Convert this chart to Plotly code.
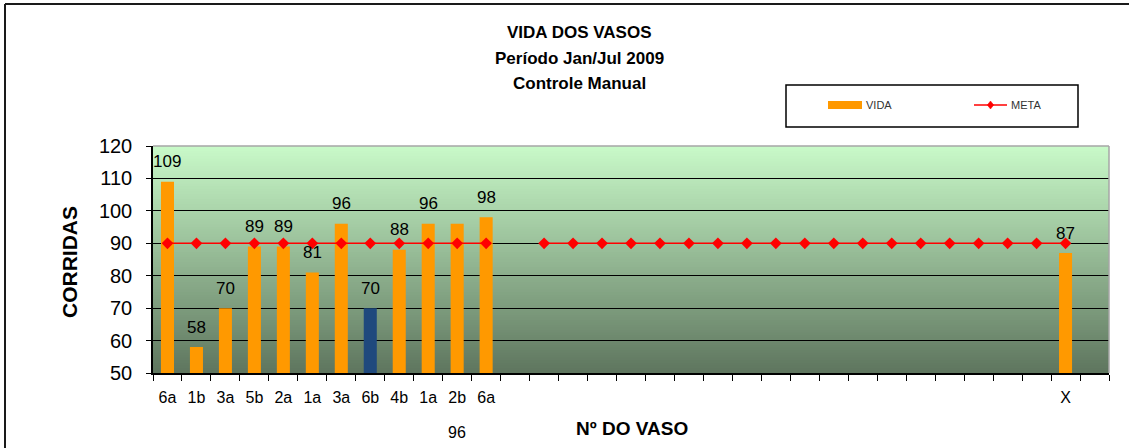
import plotly.graph_objects as go

# ---------------- data ----------------
categories = ["6a", "1b", "3a", "5b", "2a", "1a", "3a", "6b", "4b", "1a", "2b", "6a"] + [""] * 19 + ["X", ""]
vida = [109, 58, 70, 89, 89, 81, 96, 70, 88, 96, 96, 98] + [None] * 19 + [87, None]
meta = [90] * 12 + [None] + [90] * 19 + [None]
highlight_index = 7        # 6b bar drawn in dark blue
displaced_label_index = 10  # label of 2b shown below the axis

title_lines = ["VIDA DOS VASOS", "Período Jan/Jul 2009", "Controle Manual"]
y_ticks = [50, 60, 70, 80, 90, 100, 110, 120]

# ---------------- geometry helpers ----------------
W, H = 1129, 448
ML, MR, MT, MB = 153, 20, 146, 75
PW, PH = W - ML - MR, H - MT - MB


def px(x):
    return (x - ML) / PW


def py(y):
    return (H - MB - y) / PH


FONT = "Liberation Sans, Arial, sans-serif"
ORANGE = "#FF9900"
NAVY = "#1F497D"

xs = list(range(len(categories)))
bar_colors = [NAVY if i == highlight_index else ORANGE for i in xs]

fig = go.Figure()
fig.add_trace(go.Bar(
    x=xs, y=vida, width=0.45, marker=dict(color=bar_colors, line=dict(width=0)),
    name="VIDA", showlegend=False, hoverinfo="x+y",
))
fig.add_trace(go.Scatter(
    x=xs, y=meta, mode="lines+markers", name="META", showlegend=False,
    line=dict(color="#FF0000", width=1.6),
    marker=dict(symbol="diamond", size=9, color="#FF0000"),
    connectgaps=False,
))

shapes = []
# gradient background in plot area
top_c = (201, 250, 201)
bot_c = (94, 117, 94)
n = 90
for k in range(n):
    t0, t1 = k / n, (k + 1) / n
    tm = (t0 + t1) / 2
    c = tuple(round(bot_c[j] + (top_c[j] - bot_c[j]) * tm) for j in range(3))
    shapes.append(dict(type="rect", xref="paper", yref="paper", x0=0, x1=1,
                       y0=t0, y1=min(1, t1 + 0.004), layer="below",
                       line=dict(width=0), fillcolor="rgb(%d,%d,%d)" % c))
# plot area top / right border (gray)
shapes.append(dict(type="line", xref="paper", yref="paper", x0=0, x1=1, y0=1, y1=1,
                   line=dict(color="#A6A6A6", width=1.5), layer="above"))
shapes.append(dict(type="line", xref="paper", yref="paper", x0=1, x1=1, y0=0, y1=1,
                   line=dict(color="#A6A6A6", width=1.5), layer="above"))
# outer chart frame
shapes.append(dict(type="line", xref="paper", yref="paper", x0=px(5), x1=px(W + 5),
                   y0=py(4), y1=py(4), line=dict(color="#1A1A1A", width=2), layer="above"))
shapes.append(dict(type="line", xref="paper", yref="paper", x0=px(5), x1=px(5),
                   y0=py(4), y1=py(H + 5), line=dict(color="#1A1A1A", width=2), layer="above"))
# legend box
shapes.append(dict(type="rect", xref="paper", yref="paper", x0=px(786), x1=px(1078),
                   y0=py(127), y1=py(85), line=dict(color="#000000", width=1.5),
                   fillcolor="white", layer="above"))
shapes.append(dict(type="rect", xref="paper", yref="paper", x0=px(828), x1=px(862),
                   y0=py(109), y1=py(101), line=dict(width=0), fillcolor=ORANGE, layer="above"))
shapes.append(dict(type="line", xref="paper", yref="paper", x0=px(974), x1=px(1007),
                   y0=py(105), y1=py(105), line=dict(color="#FF0000", width=1.5), layer="above"))
dx, dy = 3.2, 4.0
cx, cy = 990.5, 105
path = "M %f,%f L %f,%f L %f,%f L %f,%f Z" % (
    px(cx - dx), py(cy), px(cx), py(cy - dy), px(cx + dx), py(cy), px(cx), py(cy + dy))
shapes.append(dict(type="path", xref="paper", yref="paper", path=path,
                   fillcolor="#FF0000", line=dict(color="#FF0000", width=0.5), layer="above"))

annotations = []
# titles
for txt, yy in zip(title_lines, [32, 58, 83]):
    annotations.append(dict(text="<b>%s</b>" % txt, xref="paper", yref="paper",
                            x=px(579), y=py(yy), xanchor="center", yanchor="middle",
                            showarrow=False, font=dict(family=FONT, size=17, color="#000")))
# axis titles
annotations.append(dict(text="<b>CORRIDAS</b>", xref="paper", yref="paper",
                        x=px(69), y=py(262), textangle=-90, xanchor="center", yanchor="middle",
                        showarrow=False, font=dict(family=FONT, size=21, color="#000")))
annotations.append(dict(text="<b>Nº DO VASO</b>", xref="paper", yref="paper",
                        x=px(632), y=py(428), xanchor="center", yanchor="middle",
                        showarrow=False, font=dict(family=FONT, size=19, color="#000")))
# legend texts
annotations.append(dict(text="VIDA", xref="paper", yref="paper", x=px(864), y=py(105),
                        xanchor="left", yanchor="middle", showarrow=False,
                        font=dict(family=FONT, size=11, color="#333")))
annotations.append(dict(text="META", xref="paper", yref="paper", x=px(1009), y=py(105),
                        xanchor="left", yanchor="middle", showarrow=False,
                        font=dict(family=FONT, size=11, color="#333")))
# data labels
for i, v in enumerate(vida):
    if v is None:
        continue
    if i == displaced_label_index:
        annotations.append(dict(text=str(v), xref="x", yref="paper", x=i, y=py(432),
                                xanchor="center", yanchor="middle", showarrow=False,
                                font=dict(family=FONT, size=16, color="#000")))
    else:
        annotations.append(dict(text=str(v), xref="x", yref="y", x=i, y=v, yshift=20,
                                xanchor="center", yanchor="middle", showarrow=False,
                                font=dict(family=FONT, size=17, color="#000")))

fig.update_layout(
    width=W, height=H,
    margin=dict(l=ML, r=MR, t=MT, b=MB, pad=0),
    paper_bgcolor="white", plot_bgcolor="rgba(0,0,0,0)",
    showlegend=False,
    shapes=shapes, annotations=annotations,
    xaxis=dict(
        type="linear", range=[-0.5, len(categories) - 0.5],
        tickmode="array", tickvals=xs, ticktext=categories,
        ticks="", showgrid=False, zeroline=False,
        showline=True, linecolor="#000", linewidth=1.5,
        tickfont=dict(family=FONT, size=16, color="#000"),
        ticklabelstandoff=9,
        minor=dict(tickmode="linear", tick0=-0.5, dtick=1, ticks="outside",
                   ticklen=6, tickcolor="#000", tickwidth=1, showgrid=False),
    ),
    yaxis=dict(
        range=[50, 120], tickmode="array", tickvals=y_ticks,
        showgrid=True, gridcolor="#000", gridwidth=1, zeroline=False,
        showline=True, linecolor="#000", linewidth=1.5,
        ticks="outside", ticklen=5, tickcolor="#000",
        tickfont=dict(family=FONT, size=20, color="#000"),
        ticklabelstandoff=10,
    ),
    bargap=0.55,
)

fig.write_html("out.html", config={"displayModeBar": False},
               post_script="document.body.style.margin='0px';document.body.style.overflow='hidden';")
